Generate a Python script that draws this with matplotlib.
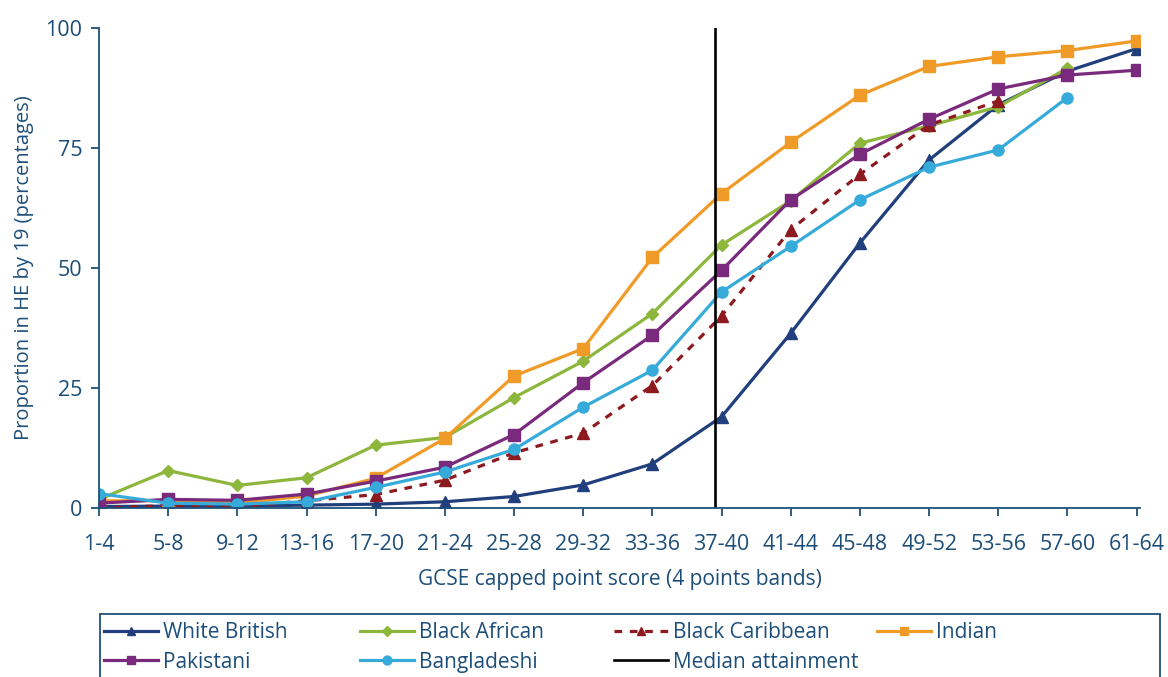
import matplotlib
matplotlib.use("Agg")
import matplotlib.pyplot as plt
from matplotlib.patches import Rectangle
import numpy as np

plt.rcParams['font.family'] = ['Open Sans', 'DejaVu Sans']

# GCSE capped point score bands
bands = ['1-4', '5-8', '9-12', '13-16', '17-20', '21-24', '25-28', '29-32',
         '33-36', '37-40', '41-44', '45-48', '49-52', '53-56', '57-60', '61-64']

# Proportion in HE by 19 (%)
white_british = [0.3, 0.4, 0.4, 0.6, 0.8, 1.3, 2.4, 4.8, 9.2, 19.0, 36.4, 55.2, 72.5, 84.0, 91.0, 95.7]
black_african = [1.8, 7.8, 4.7, 6.3, 13.1, 14.7, 23.0, 30.6, 40.5, 54.8, 64.0, 76.0, 79.6, 83.6, 91.6]
black_caribbean = [0.0, 0.5, 0.3, 1.5, 2.8, 5.8, 11.5, 15.6, 25.5, 40.0, 58.0, 69.5, 79.8, 84.8]
indian = [1.5, 1.5, 1.0, 2.5, 6.2, 14.5, 27.5, 33.2, 52.2, 65.5, 76.2, 86.0, 92.0, 94.0, 95.3, 97.3]
pakistani = [1.0, 1.8, 1.6, 2.9, 5.6, 8.5, 15.3, 26.1, 36.0, 49.5, 64.2, 73.7, 81.0, 87.3, 90.2, 91.2]
bangladeshi = [3.0, 1.0, 0.8, 1.3, 4.3, 7.5, 12.2, 21.0, 28.7, 45.0, 54.5, 64.2, 71.0, 74.6, 85.5]

# median attainment, in band units (just below the 37-40 band)
median_band = 8.9

text_col = '#1d4e79'
axis_col = '#1f5078'

W, H = 1168, 677
fig = plt.figure(figsize=(W / 100, H / 100), dpi=100)
ax = fig.add_axes([99 / W, 1 - 508 / H, 1041 / W, 480 / H])

x = np.arange(len(bands))
lw = 2.3
ms = 8

ax.plot(x[:len(white_british)], white_british, color='#213f7c', lw=lw, marker='^',
        ms=ms, label='White British')
ax.plot(x[:len(black_african)], black_african, color='#8db63c', lw=lw, marker='D',
        ms=ms - 1.5, label='Black African')
ax.plot(x[:len(black_caribbean)], black_caribbean, color='#8c1a1f', lw=lw, marker='^',
        ms=ms, dashes=(2.4, 2.4), label='Black Caribbean')
ax.plot(x[:len(indian)], indian, color='#f09a27', lw=lw, marker='s',
        ms=ms, label='Indian')
ax.plot(x[:len(pakistani)], pakistani, color='#7a2a7c', lw=lw, marker='s',
        ms=ms, label='Pakistani')
ax.plot(x[:len(bangladeshi)], bangladeshi, color='#36abd9', lw=lw, marker='o',
        ms=ms, label='Bangladeshi')
ax.plot([median_band, median_band], [0, 100], color='black', lw=1.9,
        label='Median attainment')

ax.set_xlim(0, 15.05)
ax.set_ylim(0, 100)
ax.set_yticks([0, 25, 50, 75, 100])
ax.set_xticks(x)
ax.set_xticklabels(bands)

for s in ['top', 'right']:
    ax.spines[s].set_visible(False)
for s in ['left', 'bottom']:
    ax.spines[s].set_color(axis_col)
    ax.spines[s].set_linewidth(1.3)

ax.tick_params(axis='both', colors=axis_col, labelcolor=text_col, labelsize=15.5,
               length=6, width=1.3, direction='out')
ax.tick_params(axis='x', pad=13)
ax.tick_params(axis='y', pad=6)

ax.set_xlabel('GCSE capped point score (4 points bands)', fontsize=15, color=text_col)
ax.xaxis.set_label_coords(0.5, -0.128)
ax.set_ylabel('Proportion in HE by 19 (percentages)', fontsize=14.5, color=text_col)
ax.yaxis.set_label_coords(-0.062, 0.5)

# legend: four columns inside one box under the chart
handles, labels = ax.get_legend_handles_labels()
columns = [[0, 4], [1, 5], [2, 6], [3]]
col_x = [104, 360, 614, 877]
for idx, cx in zip(columns, col_x):
    leg = fig.legend([handles[i] for i in idx], [labels[i] for i in idx],
                     loc='upper left', bbox_to_anchor=(cx / W, 1 - 622 / H),
                     fontsize=15, frameon=False, handlelength=2.6, handletextpad=0.25,
                     borderpad=0.0, labelspacing=0.42, borderaxespad=0.0,
                     markerscale=0.8)
    for t in leg.get_texts():
        t.set_color(text_col)

fig.patches.append(Rectangle((100 / W, -0.02), 1060 / W, 0.02 + 1 - 614 / H,
                             transform=fig.transFigure, fill=False,
                             edgecolor=axis_col, lw=1.3))

fig.savefig('out.png', dpi=100)
